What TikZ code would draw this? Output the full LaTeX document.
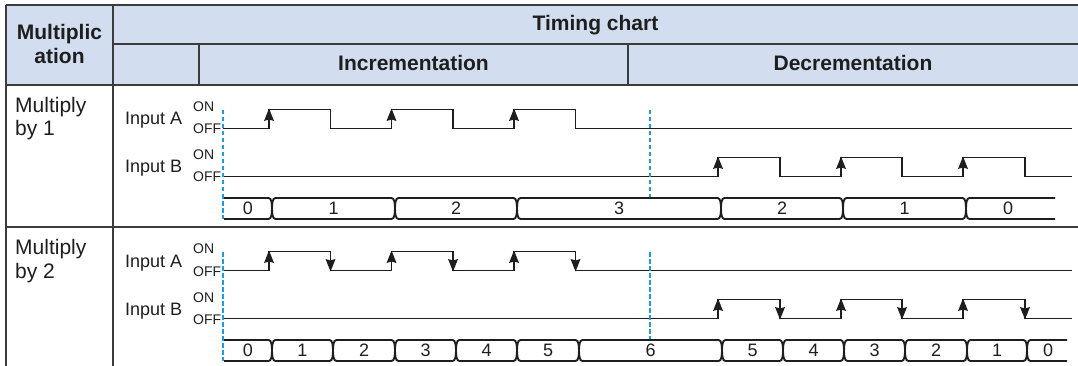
\documentclass[tikz,border=0pt]{standalone}
\usepackage{fontspec}
\setmainfont{Liberation Sans}
\definecolor{hdr}{RGB}{210,222,239}
\definecolor{gridc}{RGB}{60,60,60}
\definecolor{dashblue}{RGB}{30,155,225}
\definecolor{ink}{RGB}{30,30,30}
\begin{document}
\begin{tikzpicture}[x=1pt,y=-1pt,
  gridline/.style={draw=gridc,line width=1.3pt},
  sig/.style={draw=ink,line width=1.9pt,line join=miter},
  marker/.style={draw=dashblue,line width=2.2pt,dash pattern=on 4.5pt off 2.5pt},
  bus/.style={draw=ink,line width=1.9pt},
  hdrtxt/.style={font=\fontsize{21}{24}\selectfont\bfseries,text=ink,anchor=base,inner sep=0pt},
  rowtxt/.style={font=\fontsize{21}{24}\selectfont,text=ink,anchor=base west,inner sep=0pt},
  inptxt/.style={font=\fontsize{18}{20}\selectfont,text=ink,anchor=base west,inner sep=0pt},
  lvltxt/.style={font=\fontsize{14}{15}\selectfont,text=ink,anchor=base west,inner sep=0pt},
  numtxt/.style={font=\fontsize{18}{20}\selectfont,text=ink,anchor=base,inner sep=0pt},
  arrowhd/.style={fill=ink}
]
\useasboundingbox (0,0) rectangle (1078,366);
% header background
\fill[hdr] (6,5) rectangle (1078,85);
% grid
\draw[gridline] (6,5) -- (1078,5);
\draw[gridline] (113,44) -- (1078,44);
\draw[gridline] (6,85) -- (1078,85);
\draw[gridline] (6,227) -- (1078,227);
\draw[gridline] (6,5) -- (6,366);
\draw[gridline] (113,5) -- (113,366);
\draw[gridline] (199,44) -- (199,85);
\draw[gridline] (628,44) -- (628,85);
% header texts
\node[hdrtxt] (h1) at (59.5,39.3) {Multiplic};
\node[hdrtxt] (h2) at (59.5,63.3) {ation};
\node[hdrtxt] (h3) at (595.5,31) {Timing chart};
\node[hdrtxt] (h4) at (413.5,71) {Incrementation};
\node[hdrtxt] (h5) at (853,71) {Decrementation};

% ---------- rows ----------
\foreach \r/\n/\mode in {0/1/1,142/2/2}{
  \node[rowtxt] (m\n a) at (15,112.3+\r) {Multiply};
  \node[rowtxt] (m\n b) at (15,136+\r) {by \n};
  \node[inptxt] (ia\n) at (125,125+\r) {Input A};
  \node[inptxt] (ib\n) at (125,173+\r) {Input B};
  \node[lvltxt] (ona\n) at (193,111.7+\r) {ON};
  \node[lvltxt] (offa\n) at (193,134+\r) {OFF};
  \node[lvltxt] (onb\n) at (193,160+\r) {ON};
  \node[lvltxt] (offb\n) at (193,182+\r) {OFF};
  % input A waveform
  \draw[sig] (223,128.5+\r)
    \foreach \u/\d in {269/330.5,391.5/453,514/575.5}{
      -- (\u,128.5+\r) -- (\u,109.5+\r) -- (\d,109.5+\r) -- (\d,128.5+\r)}
    -- (1072,128.5+\r);
  % input B waveform
  \draw[sig] (223,176.5+\r)
    \foreach \u/\d in {718/780,841/902,963/1025}{
      -- (\u,176.5+\r) -- (\u,157.5+\r) -- (\d,157.5+\r) -- (\d,176.5+\r)}
    -- (1072,176.5+\r);
  % rising-edge arrowheads
  \foreach \u in {269,391.5,514}{
    \fill[arrowhd] (\u,108.5+\r) -- (\u-5,121+\r) -- (\u,119.5+\r) -- (\u+5,121+\r) -- cycle;}
  \foreach \u in {718,841,963}{
    \fill[arrowhd] (\u,156.5+\r) -- (\u-5,169+\r) -- (\u,167.5+\r) -- (\u+5,169+\r) -- cycle;}
  % falling-edge arrowheads (multiply by 2 only)
  \ifnum\mode=2
    \foreach \d in {330.5,453,575.5}{
      \fill[arrowhd] (\d,129.5+\r) -- (\d-5,117+\r) -- (\d,118.5+\r) -- (\d+5,117+\r) -- cycle;}
    \foreach \d in {780,902,1025}{
      \fill[arrowhd] (\d,177.5+\r) -- (\d-5,165+\r) -- (\d,166.5+\r) -- (\d+5,165+\r) -- cycle;}
  \fi
  % marker lines
  \draw[marker] (223,110+\r) -- (223,219+\r);
  \draw[marker] (650,110+\r) -- (650,198+\r);
}

% ---------- bus row 1 ----------
\def\T{198}\def\B{219}\def\M{208.5}
\draw[bus] (224,\T) -- (268.5,\T) .. controls (271.5,\T) and (272,\M-5) .. (272,\M)
  .. controls (272,\M+5) and (271.5,\B) .. (268.5,\B) -- (224,\B);
\node[numtxt] (c1n0) at (248,214.5) {0};
\foreach \a/\b/\lab [count=\i] in {272/395/1,395/517/2,517/721/3,721/843/2,843/966/1}{
  \draw[bus] (\a+3.5,\T) -- (\b-3.5,\T) .. controls (\b-0.5,\T) and (\b,\M-5) .. (\b,\M)
    .. controls (\b,\M+5) and (\b-0.5,\B) .. (\b-3.5,\B) -- (\a+3.5,\B)
    .. controls (\a+0.5,\B) and (\a,\M+5) .. (\a,\M)
    .. controls (\a,\M-5) and (\a+0.5,\T) .. cycle;
  \node[numtxt] (c1n\i) at ({(\a+\b)/2},214.5) {\lab};
}
\draw[bus] (1055,\T) -- (969.5,\T) .. controls (966.5,\T) and (966,\M-5) .. (966,\M)
  .. controls (966,\M+5) and (966.5,\B) .. (969.5,\B) -- (1055,\B);
\node[numtxt] (c1n7) at (1008,214.5) {0};

% ---------- bus row 2 ----------
\def\T{340}\def\B{361}\def\M{350.5}
\draw[bus] (224,\T) -- (268.5,\T) .. controls (271.5,\T) and (272,\M-5) .. (272,\M)
  .. controls (272,\M+5) and (271.5,\B) .. (268.5,\B) -- (224,\B);
\node[numtxt] (c2n0) at (248,356.5) {0};
\foreach \a/\b/\lab [count=\i] in {272/333/1,333/395/2,395/456/3,456/517/4,517/579/5,579/722/6,722/783/5,783/844/4,844/905/3,905/967/2,967/1027/1}{
  \draw[bus] (\a+3.5,\T) -- (\b-3.5,\T) .. controls (\b-0.5,\T) and (\b,\M-5) .. (\b,\M)
    .. controls (\b,\M+5) and (\b-0.5,\B) .. (\b-3.5,\B) -- (\a+3.5,\B)
    .. controls (\a+0.5,\B) and (\a,\M+5) .. (\a,\M)
    .. controls (\a,\M-5) and (\a+0.5,\T) .. cycle;
  \node[numtxt] (c2n\i) at ({(\a+\b)/2},356.5) {\lab};
}
\draw[bus] (1067,\T) -- (1030.5,\T) .. controls (1027.5,\T) and (1027,\M-5) .. (1027,\M)
  .. controls (1027,\M+5) and (1027.5,\B) .. (1030.5,\B) -- (1067,\B);
\node[numtxt] (c2n12) at (1048,356.5) {0};
\end{tikzpicture}
\end{document}
